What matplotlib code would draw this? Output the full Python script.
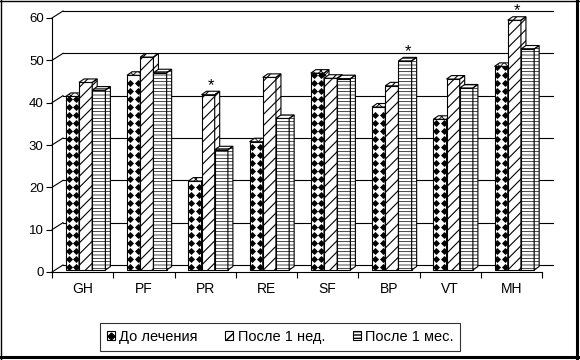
import numpy as np
import matplotlib
matplotlib.use('Agg')
import matplotlib.pyplot as plt
from matplotlib.patches import Polygon, Patch
from matplotlib.lines import Line2D

# данные
categories = ['GH', 'PF', 'PR', 'RE', 'SF', 'BP', 'VT', 'MH']
series_names = ['До лечения', 'После 1 нед.', 'После 1 мес.']
before = [41.0, 46.0, 21.0, 30.3, 46.5, 38.5, 35.6, 48.1]
week1 = [44.3, 50.3, 41.4, 45.5, 45.3, 43.5, 45.1, 59.0]
month1 = [42.5, 46.6, 28.4, 35.8, 45.2, 49.4, 43.0, 52.2]
yticks = [0, 10, 20, 30, 40, 50, 60]
# звездочки: (категория, серия)
stars = [(2, 1), (5, 2), (7, 1)]

series = [before, week1, month1]
# стиль: цвет штриховки, штриховка, толщина штриховки (серия 1 - ромбики маркерами)
styles = [
    ('black', '', 0.6),
    ('black', '///', 0.8),
    ('black', '-----', 0.5),
]

plt.rcParams['font.family'] = ['Liberation Sans', 'DejaVu Sans']

W, H = 580, 360
fig = plt.figure(figsize=(W / 100, H / 100), dpi=100)
x0px, x1px, y0px, y60px = 52, 542, 272, 18
ax = fig.add_axes([x0px / W, 1 - y0px / H, (x1px - x0px) / W, (y0px - y60px) / H])
n = len(categories)
ax.set_xlim(0, n)
ax.set_ylim(0, 60)
ax.patch.set_visible(False)
for s in ['top', 'right']:
    ax.spines[s].set_visible(False)
for s in ['left', 'bottom']:
    ax.spines[s].set_linewidth(0.8)

ux = n / (x1px - x0px)       # единиц данных на пиксель по x
uy = 60 / (y0px - y60px)     # по y

# задняя стенка
wdx, wdy = 11 * ux, 7 * uy
for v in yticks:
    ax.plot([0, wdx], [v, v + wdy], color='k', lw=0.8, clip_on=False, zorder=1)
    ax.plot([wdx, n + wdx], [v + wdy, v + wdy], color='k', lw=0.8, clip_on=False, zorder=1)

# псевдо-3D столбики
bw = 13.2 * ux
gap0 = 10.8 * ux
bx0, by0 = 3.0 * ux, 2.0 * uy
sdx, sdy = 5.0 * ux, 3.5 * uy


def set_hlw(p, lw):
    if hasattr(p, 'set_hatch_linewidth'):
        p.set_hatch_linewidth(lw)


tops = {}
for j, vals in enumerate(series):
    hc, hatch, hlw = styles[j]
    z = 10 + 3 * j
    xs = np.arange(n) + gap0 + bx0 + j * bw
    bars = ax.bar(xs, vals, width=bw, bottom=by0, align='edge', facecolor='white',
                  edgecolor=hc, hatch=hatch, linewidth=0, zorder=z, clip_on=False)
    for b in bars:
        set_hlw(b, hlw)
    if j == 0:
        # ромбики внутри столбика
        for b in bars:
            bx, bh = b.get_x(), b.get_height()
            ry = np.arange(by0 + 3.5 * uy, by0 + bh, 8 * uy)
            cx = [bx + 2.8 * ux, bx + 10.6 * ux]
            gx, gy = np.meshgrid(cx, ry)
            sc = ax.scatter(gx.ravel(), gy.ravel(), marker='D', s=13, c='k',
                            linewidths=0, zorder=z + 0.2)
            sc.set_clip_path(b)
    ax.bar(xs, vals, width=bw, bottom=by0, align='edge', fill=False,
           edgecolor='k', linewidth=0.8, zorder=z + 0.5, clip_on=False)
    for i, (x, v) in enumerate(zip(xs, vals)):
        top = by0 + v
        xr = x + bw
        side = [(xr, by0), (xr + sdx, by0 + sdy), (xr + sdx, top + sdy), (xr, top)]
        lid = [(x, top), (xr, top), (xr + sdx, top + sdy), (x + sdx, top + sdy)]
        for pts in (side, lid):
            p = Polygon(pts, closed=True, facecolor='white', edgecolor=hc,
                        hatch=hatch if hatch else 'xxxx', linewidth=0,
                        zorder=z + 1, clip_on=False)
            set_hlw(p, hlw)
            ax.add_patch(p)
            ax.add_patch(Polygon(pts, closed=True, fill=False, edgecolor='k',
                                 linewidth=0.8, zorder=z + 1.5, clip_on=False))
        tops[(i, j)] = (x + bw / 2 + sdx / 2, top + sdy)

for key in stars:
    sx, sy = tops[key]
    ax.text(sx, sy + 0.3, '*', ha='center', va='baseline', fontsize=12, zorder=30)

ax.set_yticks(yticks)
ax.tick_params(axis='y', length=4, width=0.8, pad=2, labelsize=9.5)
ax.set_xticks(np.arange(n) + 0.5, categories)
ax.set_xticks(np.arange(n + 1), minor=True)
ax.tick_params(axis='x', which='major', length=0, pad=7, labelsize=10)
ax.tick_params(axis='x', which='minor', length=4, width=0.8)

# легенда
handles = []
for j, (hc, hatch, hlw) in enumerate(styles):
    hp = Patch(facecolor='white', edgecolor=hc, hatch=hatch, linewidth=0)
    set_hlw(hp, hlw)
    frame = Patch(fill=False, edgecolor='k', linewidth=0.8)
    if j == 0:
        handles.append((hp, Line2D([], [], marker='D', color='k', ms=3.5, ls='None'), frame))
    else:
        handles.append((hp, frame))
leg = fig.legend(handles, series_names, loc='center', bbox_to_anchor=(280 / W, 1 - 337 / H),
                 ncol=3, fontsize=10.5, frameon=True, fancybox=False, edgecolor='k',
                 handlelength=0.55, handleheight=0.55, handletextpad=0.3,
                 columnspacing=1.9, borderpad=0.45)
leg.get_frame().set_linewidth(0.8)

# рамка области диаграммы
fig.add_artist(Line2D([0.5 / W, 0.5 / W], [0, 1], color='k', lw=1, transform=fig.transFigure))
fig.add_artist(Line2D([0, 1], [1 - 0.5 / H, 1 - 0.5 / H], color='k', lw=1, transform=fig.transFigure))
fig.add_artist(Line2D([577 / W, 577 / W], [0, 1], color='k', lw=2.2, transform=fig.transFigure))
fig.add_artist(Line2D([0, 1], [1 - 356.5 / H, 1 - 356.5 / H], color='k', lw=2.2, transform=fig.transFigure))

fig.savefig('out.png', dpi=100)
